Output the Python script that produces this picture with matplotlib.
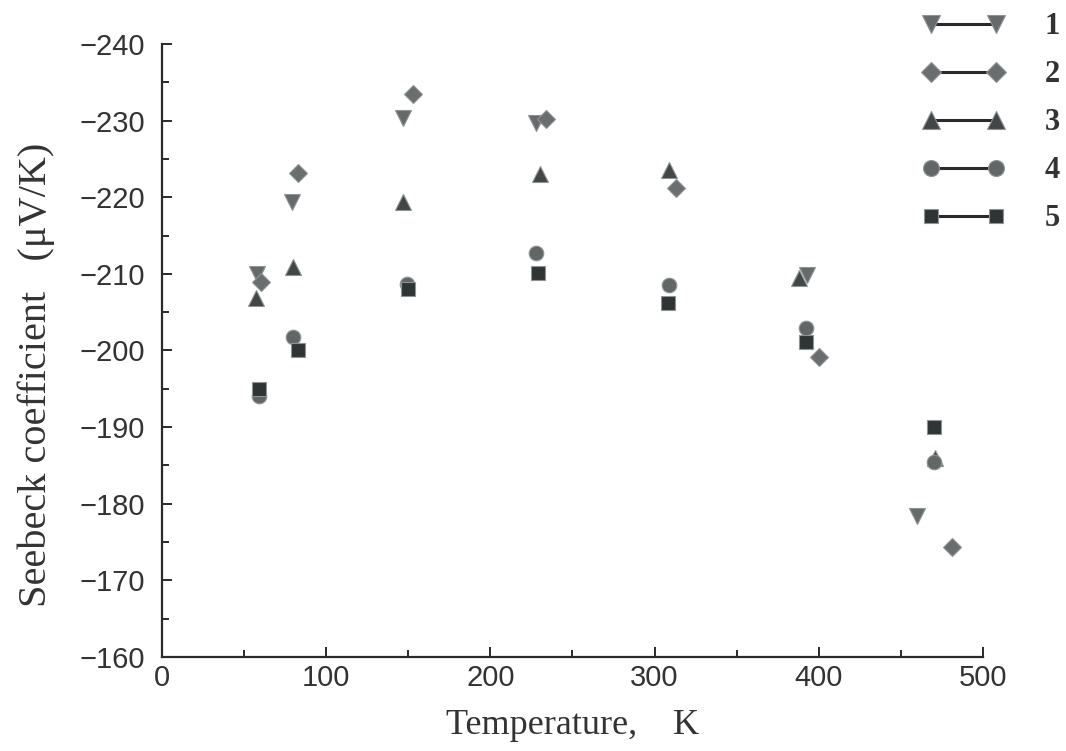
import numpy as np
import matplotlib.pyplot as plt
from matplotlib.lines import Line2D

# data
t1 = [58, 79, 147, 228, 393, 460]
s1 = [-210.0, -219.4, -230.3, -229.7, -209.8, -178.4]

t2 = [60, 83, 153, 234, 313, 400, 481]
s2 = [-209.0, -223.2, -233.5, -230.2, -221.2, -199.1, -174.3]

t3 = [57, 80, 147, 230, 309, 388, 471]
s3 = [-206.8, -210.9, -219.4, -223.0, -223.6, -209.5, -186.0]

t4 = [59, 80, 149, 228, 309, 392, 470]
s4 = [-194.0, -201.7, -208.7, -212.7, -208.5, -202.9, -185.5]

t5 = [59, 83, 150, 229, 308, 392, 470]
s5 = [-195.0, -200.0, -208.0, -210.1, -206.2, -201.1, -190.0]

labels = ["1", "2", "3", "4", "5"]
series = [(t1, s1), (t2, s2), (t3, s3), (t4, s4), (t5, s5)]
markers = ["v", "D", "^", "o", "s"]
sizes = [11.5, 9, 11.5, 10.5, 9.5]
colors = ["#666a6a", "#6a6e6e", "#424646", "#626666", "#2f3434"]

fig = plt.figure(figsize=(10.66, 7.51), dpi=100)
ax = fig.add_axes([0.152, 0.1252, 0.770, 0.8162])

handles = []
for (t, s), m, ms, c, lab in zip(series, markers, sizes, colors, labels):
    ax.plot(t, s, linestyle="none", marker=m, ms=ms, color=c,
            markeredgecolor="#8e9494", markeredgewidth=0.8)
    handles.append(Line2D([], [], color="#2a2a2a", lw=2.2, marker=m, ms=ms + 1,
                          markerfacecolor=c, markeredgecolor="#8e9494",
                          markeredgewidth=0.8, label=lab))

ax.set_xlim(0, 500)
ax.set_ylim(-160, -240)
ax.set_xticks(np.arange(0, 501, 100))
ax.set_xticks(np.arange(50, 500, 100), minor=True)
ax.set_yticks(np.arange(-240, -159, 10))
ax.set_yticks(np.arange(-235, -160, 10), minor=True)
ax.set_yticklabels(["\u2212" + str(abs(v)) for v in range(-240, -159, 10)])

for side in ["top", "right"]:
    ax.spines[side].set_visible(False)
for side in ["left", "bottom"]:
    ax.spines[side].set_linewidth(1.6)
    ax.spines[side].set_color("#2a2a2a")

ax.tick_params(which="both", direction="in", color="#2a2a2a", width=1.4)
ax.tick_params(which="major", length=7)
ax.tick_params(which="minor", length=5)
ax.tick_params(axis="x", labelsize=21, pad=5)
ax.tick_params(axis="y", labelsize=21, pad=12)
for lbl in ax.get_xticklabels() + ax.get_yticklabels():
    lbl.set_fontfamily("Liberation Sans")
    lbl.set_color("#333333")

ax.set_xlabel("Temperature,    K", fontfamily="Liberation Serif", fontsize=26,
              color="#333333", labelpad=12)
ax.set_ylabel("Seebeck coefficient   (\u03bcV/K)", fontfamily="Liberation Serif",
              fontsize=29, color="#333333")
ax.yaxis.set_label_coords(-0.13, 0.46)

fig.legend(handles=handles, loc="upper right", bbox_to_anchor=(1.02, 1.02),
           frameon=False, numpoints=2, handlelength=2.7, handletextpad=1.3,
           labelspacing=0.62, prop={"family": "Liberation Serif", "size": 22, "weight": "bold"},
           labelcolor="#333333")

fig.savefig("out.png", dpi=100)
